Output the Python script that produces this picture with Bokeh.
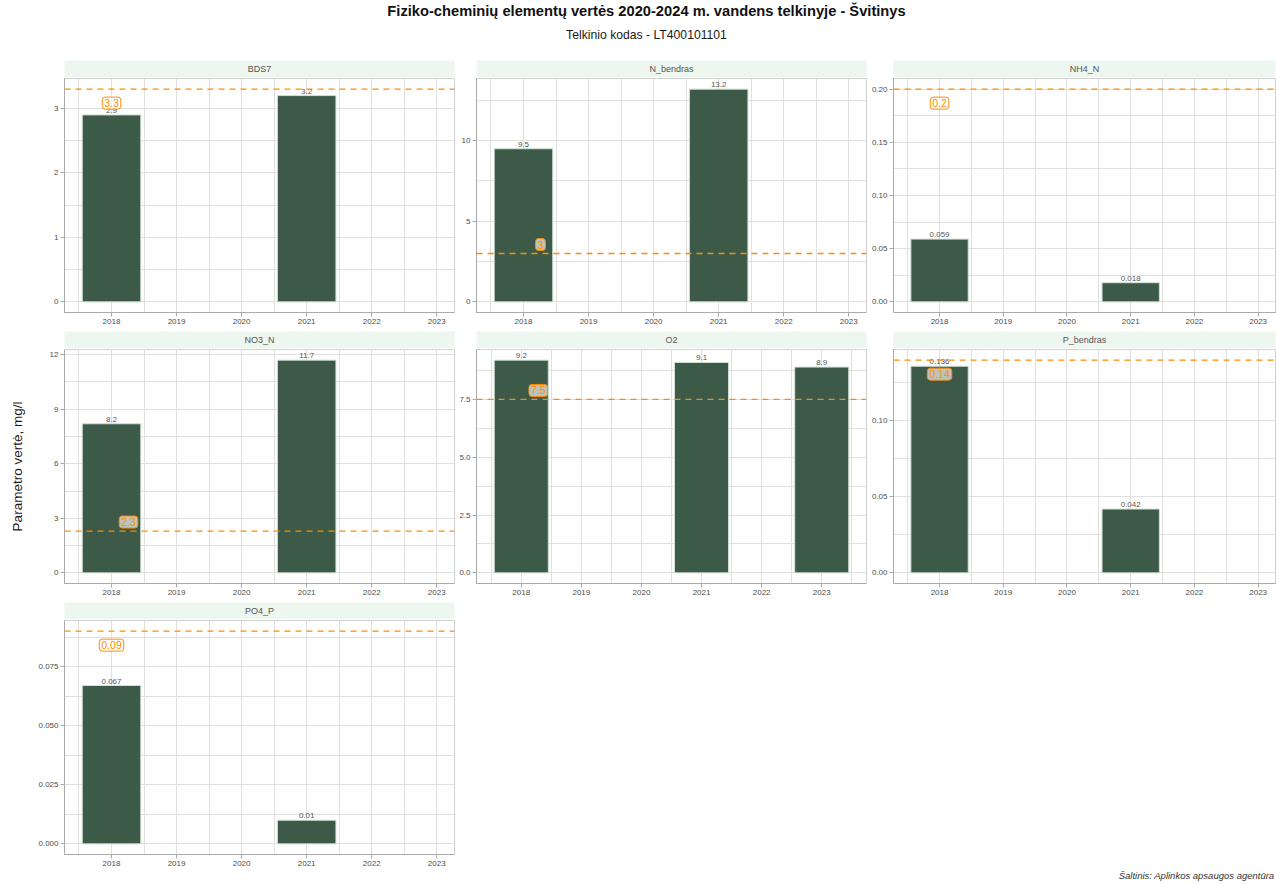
from bokeh.plotting import figure
from bokeh.layouts import column, row
from bokeh.models import Range1d, FixedTicker, Span, Title, ColumnDataSource
from bokeh.core.properties import value
from bokeh.embed import file_html
from bokeh.resources import INLINE

FONT = "Liberation Sans"

# ---------------- texts ----------------
title_text = "Fiziko-cheminių elementų vertės 2020-2024 m. vandens telkinyje - Švitinys"
subtitle_text = "Telkinio kodas - LT400101101"
y_title = "Parametro vertė, mg/l"
source_text = "Šaltinis: Aplinkos apsaugos agentūra"

# ---------------- data ----------------
x_years = [2018, 2019, 2020, 2021, 2022, 2023]
x_tick_labels = ["2018", "2019", "2020", "2021", "2022", "2023"]

params = ["BDS7", "N_bendras", "NH4_N", "NO3_N", "O2", "P_bendras", "PO4_P"]

bds7_years = [2018, 2021]
bds7_values = [2.9, 3.2]
n_bendras_years = [2018, 2021]
n_bendras_values = [9.5, 13.2]
nh4_n_years = [2018, 2021]
nh4_n_values = [0.059, 0.018]
no3_n_years = [2018, 2021]
no3_n_values = [8.2, 11.7]
o2_years = [2018, 2021, 2023]
o2_values = [9.2, 9.1, 8.9]
p_bendras_years = [2018, 2021]
p_bendras_values = [0.136, 0.042]
po4_p_years = [2018, 2021]
po4_p_values = [0.067, 0.01]

thresholds = [3.3, 3.0, 0.2, 2.3, 7.5, 0.14, 0.09]
threshold_labels = ["3.3", "3", "0.2", "2.3", "7.5", "0.14", "0.09"]

bds7_yticks = [0, 1, 2, 3]
bds7_yticklabels = ["0", "1", "2", "3"]
n_bendras_yticks = [0, 5, 10]
n_bendras_yticklabels = ["0", "5", "10"]
nh4_n_yticks = [0.0, 0.05, 0.10, 0.15, 0.20]
nh4_n_yticklabels = ["0.00", "0.05", "0.10", "0.15", "0.20"]
no3_n_yticks = [0, 3, 6, 9, 12]
no3_n_yticklabels = ["0", "3", "6", "9", "12"]
o2_yticks = [0.0, 2.5, 5.0, 7.5]
o2_yticklabels = ["0.0", "2.5", "5.0", "7.5"]
p_bendras_yticks = [0.0, 0.05, 0.10]
p_bendras_yticklabels = ["0.00", "0.05", "0.10"]
po4_p_yticks = [0.0, 0.025, 0.050, 0.075]
po4_p_yticklabels = ["0.000", "0.025", "0.050", "0.075"]

param_years = [bds7_years, n_bendras_years, nh4_n_years, no3_n_years,
               o2_years, p_bendras_years, po4_p_years]
param_values = [bds7_values, n_bendras_values, nh4_n_values, no3_n_values,
                o2_values, p_bendras_values, po4_p_values]
param_yticks = [bds7_yticks, n_bendras_yticks, nh4_n_yticks, no3_n_yticks,
                o2_yticks, p_bendras_yticks, po4_p_yticks]
param_yticklabels = [bds7_yticklabels, n_bendras_yticklabels, nh4_n_yticklabels,
                     no3_n_yticklabels, o2_yticklabels, p_bendras_yticklabels,
                     po4_p_yticklabels]

# ---------------- style / geometry ----------------
BAR_COLOR = "#3d5a48"
BAR_EDGE = "#cfe2d4"
ORANGE = "#ff8c00"
STRIP_FILL = "#eef6f0"
GRID = "#e0e0e0"
AXIS = "#aaaaaa"
BORDER = "#d0d0d0"
TXT = "#4d4d4d"

BAR_W = 0.9
EXPAND = 0.05
COL_LEFT = [64, 21, 26]
COL_FRAME = [390, 390, 382]
COL_RIGHT = [1, 1, 1]
HEADER_H = 60
STRIP_H = 17
PANEL_TOP = 1
FRAME_H = 234
PANEL_BOTTOM = 19
FOOTER_H = 280
NCOL = 3


def strip_fig(name, c):
    w = COL_LEFT[c] + COL_FRAME[c] + COL_RIGHT[c]
    s = figure(width=w, height=STRIP_H, min_border_left=COL_LEFT[c],
               min_border_right=COL_RIGHT[c], min_border_top=0, min_border_bottom=0,
               x_range=Range1d(0, 1), y_range=Range1d(0, 1),
               x_axis_location=None, y_axis_location=None,
               toolbar_location=None, output_backend="svg")
    s.background_fill_color = STRIP_FILL
    s.border_fill_color = "white"
    s.outline_line_color = None
    s.grid.visible = False
    s.text(x=[0.5], y=[0.5], text=[name], text_align="center", text_baseline="middle",
           text_font=value(FONT), text_font_size="9px", text_color="#555555")
    return s


def panel_fig(i, c):
    name = params[i]
    yrs = param_years[i]
    vals = param_values[i]
    thr = thresholds[i]
    m = max(max(vals), thr)
    x_lo = min(min(yrs) - BAR_W / 2, x_years[0])
    x_hi = max(max(yrs) + BAR_W / 2, x_years[-1])
    dx = (x_hi - x_lo) * EXPAND
    w = COL_LEFT[c] + COL_FRAME[c] + COL_RIGHT[c]
    p = figure(width=w, height=PANEL_TOP + FRAME_H + PANEL_BOTTOM,
               min_border_left=COL_LEFT[c], min_border_right=COL_RIGHT[c],
               min_border_top=PANEL_TOP, min_border_bottom=PANEL_BOTTOM,
               x_range=Range1d(x_lo - dx, x_hi + dx),
               y_range=Range1d(-EXPAND * m, (1 + EXPAND) * m),
               toolbar_location=None, output_backend="svg")
    p.background_fill_color = "white"
    p.border_fill_color = "white"
    p.outline_line_color = BORDER
    p.outline_line_width = 1

    # ticks
    xt = FixedTicker(ticks=x_years, minor_ticks=[y - 0.5 for y in x_years] + [x_years[-1] + 0.5])
    yt_major = param_yticks[i]
    step = yt_major[1] - yt_major[0]
    yt = FixedTicker(ticks=yt_major,
                     minor_ticks=[t + step / 2 for t in [yt_major[0] - step] + yt_major])
    p.xaxis.ticker = xt
    p.yaxis.ticker = yt
    p.xgrid.ticker = xt
    p.ygrid.ticker = yt
    p.xaxis.major_label_overrides = {y: l for y, l in zip(x_years, x_tick_labels)}
    p.yaxis.major_label_overrides = {t: l for t, l in zip(yt_major, param_yticklabels[i])}

    for ax in (p.xaxis, p.yaxis):
        ax.axis_line_color = AXIS
        ax.axis_line_width = 1
        ax.major_tick_line_color = AXIS
        ax.major_tick_out = 4
        ax.major_tick_in = 0
        ax.minor_tick_out = 0
        ax.minor_tick_in = 0
        ax.major_label_text_font = FONT
        ax.major_label_text_font_size = "8px"
        ax.major_label_text_color = TXT
        ax.major_label_standoff = 2

    for g in (p.xgrid, p.ygrid):
        g.grid_line_color = GRID
        g.grid_line_width = 1
        g.minor_grid_line_color = GRID
        g.minor_grid_line_width = 1

    # bars
    src = ColumnDataSource(dict(x=yrs, top=vals, lab=[str(v) for v in vals]))
    p.vbar(x="x", top="top", width=BAR_W, source=src, fill_color=BAR_COLOR,
           line_color=BAR_EDGE, line_width=1)
    p.text(x="x", y="top", text="lab", source=src, text_align="center",
           text_baseline="bottom", y_offset=-2, text_font=value(FONT),
           text_font_size="8px", text_color="#555555")

    # threshold line + label
    p.add_layout(Span(location=thr, dimension="width", line_color=ORANGE,
                      line_width=1.3, line_dash="6 5", line_alpha=1.0,
                      level="overlay"))
    below = thr >= max(vals)
    p.text(x=[x_years[0]], y=[thr], text=[threshold_labels[i]],
           x_offset=0 if below else 17, y_offset=14 if below else -9,
           text_align="center", text_baseline="middle", text_font=value(FONT),
           text_font_size="10.5px", text_color=ORANGE,
           background_fill_color="white", background_fill_alpha=0.65,
           border_line_color=ORANGE, border_line_width=1,
           padding=2, border_radius=3)

    if name == "NO3_N":
        p.yaxis.axis_label = y_title
        p.yaxis.axis_label_text_font = FONT
        p.yaxis.axis_label_text_font_size = "13.5px"
        p.yaxis.axis_label_text_font_style = "normal"
        p.yaxis.axis_label_text_color = "#1a1a1a"
        p.yaxis.axis_label_standoff = 22
    return p


# header
total_w = sum(COL_LEFT[k] + COL_FRAME[k] + COL_RIGHT[k] for k in range(NCOL))
header = figure(width=total_w, height=HEADER_H, min_border_left=16, min_border_right=0,
                min_border_top=8, min_border_bottom=0,
                x_range=Range1d(0, 1), y_range=Range1d(0, 1),
                x_axis_location=None, y_axis_location=None,
                toolbar_location=None, output_backend="svg")
header.outline_line_color = None
header.grid.visible = False
header.add_layout(Title(text=subtitle_text, align="center", vertical_align="middle",
                        text_font=FONT, text_font_size="12.2px", text_font_style="normal",
                        text_color="#1a1a1a", standoff=12), "above")
header.add_layout(Title(text=title_text, align="center", vertical_align="middle",
                        text_font=FONT, text_font_size="14.7px", text_font_style="bold",
                        text_color="#111111", standoff=2), "above")

cells = []
for i, name in enumerate(params):
    c = i % NCOL
    cells.append(column(strip_fig(name, c), panel_fig(i, c), spacing=0))

footer_w = sum(COL_LEFT[k] + COL_FRAME[k] + COL_RIGHT[k] for k in (1, 2))
footer = figure(width=footer_w, height=FOOTER_H, min_border_left=0, min_border_right=0,
                min_border_top=0, min_border_bottom=0,
                x_range=Range1d(0, 1), y_range=Range1d(0, 1),
                x_axis_location=None, y_axis_location=None,
                toolbar_location=None, output_backend="svg")
footer.outline_line_color = None
footer.grid.visible = False
footer.add_layout(Title(text=source_text, align="right", vertical_align="middle",
                        offset=2, text_font=FONT, text_font_size="9.5px",
                        text_font_style="italic", text_color="#333333", standoff=2),
                  "below")

rows = []
for r in range(0, len(params), NCOL):
    rows.append(row(*cells[r:r + NCOL], spacing=0))
rows[-1] = row(*cells[6:], footer, spacing=0)

layout = column(header, *rows, spacing=0)

open("out.html", "w").write(file_html(layout, INLINE))
